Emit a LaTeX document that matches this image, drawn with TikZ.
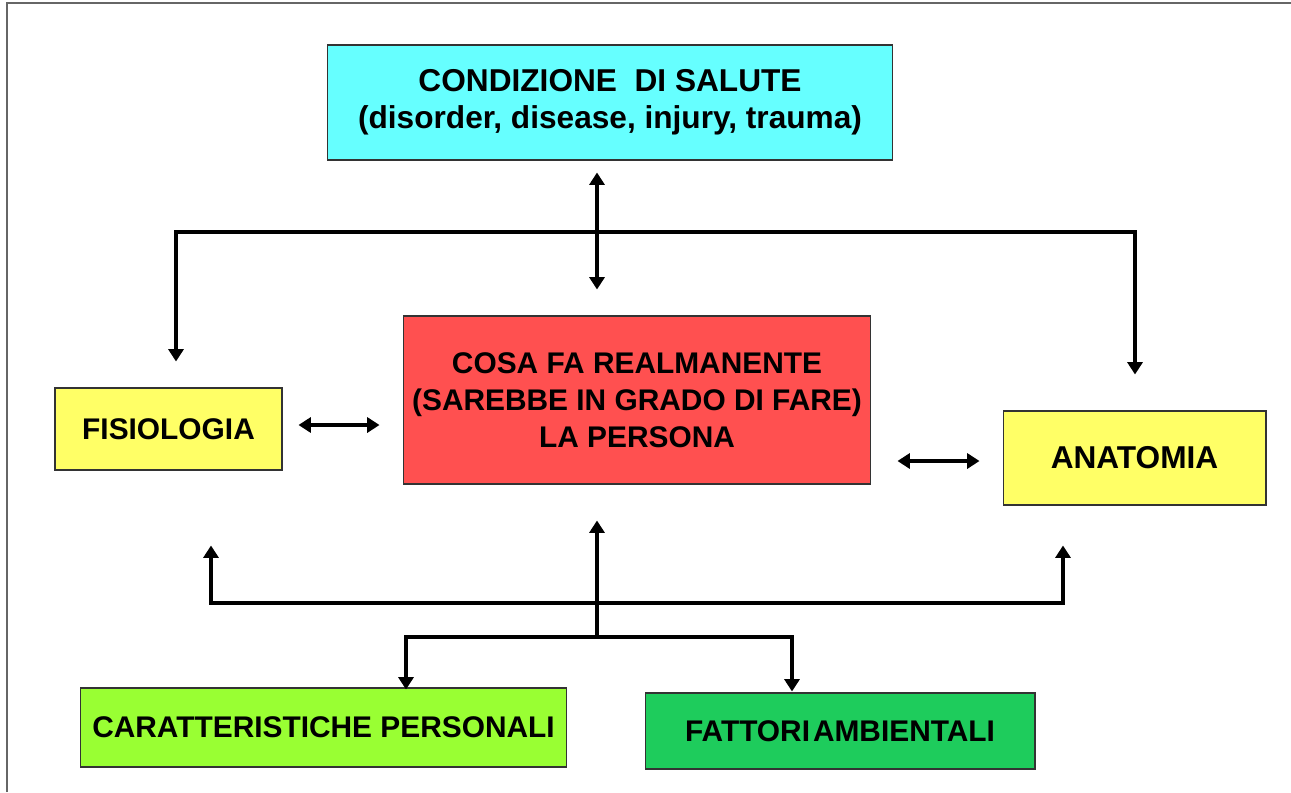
\documentclass[tikz,border=0pt]{standalone}
\usepackage{fontspec}
\setmainfont{Liberation Sans}
\usetikzlibrary{arrows.meta}

\definecolor{salute}{RGB}{102,255,255}
\definecolor{persona}{RGB}{255,80,80}
\definecolor{corpo}{RGB}{255,255,102}
\definecolor{personali}{RGB}{153,255,51}
\definecolor{ambiente}{RGB}{30,204,92}

\begin{document}
\begin{tikzpicture}[x=0.02cm,y=-0.02cm,
    box/.style={draw=black!80, line width=0.6pt, align=center, inner sep=0pt,
        font=\bfseries\fontsize{17}{21}\selectfont},
    big/.style={font=\bfseries\fontsize{18}{21}\selectfont},
    wire/.style={line width=2.3pt, line join=miter},
    onetip/.style={-{Triangle[length=7pt,width=8.5pt]}},
    twotips/.style={{Triangle[length=7pt,width=8.5pt]}-{Triangle[length=7pt,width=8.5pt]}}]

% Page size and frame
\useasboundingbox[fill=white] (0,0) rectangle (1291,792);
\draw[black!60, line width=0.8pt] (7,792) -- (7,3) -- (1291,3);

% Boxes
\node[box, big, fill=salute, minimum width=11.32cm, minimum height=2.3cm] (cond) at (610,102.5)
    {CONDIZIONE\ \ DI SALUTE\\(disorder, disease, injury,\ trauma)};
\node[box, fill=persona, minimum width=9.36cm, minimum height=3.36cm] (cosa) at (637,400)
    {COSA FA REALMANENTE\\(SAREBBE IN GRADO DI FARE)\\LA PERSONA};
\node[box, fill=corpo, minimum width=4.54cm, minimum height=1.64cm] (fis) at (168.5,429) {FISIOLOGIA};
\node[box, big, fill=corpo, minimum width=5.26cm, minimum height=1.88cm] (ana) at (1134.5,458) {ANATOMIA};
\node[box, fill=personali, minimum width=9.74cm, minimum height=1.58cm] (car) at (323.5,727.5)
    {CARATTERISTICHE PERSONALI};
\node[box, fill=ambiente, minimum width=7.8cm, minimum height=1.52cm] (fat) at (840,731)
    {FATTORI\hspace{0.1em}AMBIENTALI};

% Bus points
\coordinate (mid) at (597,232);
\coordinate (tl) at (176,232);
\coordinate (tr) at (1135,232);
\coordinate (bl) at (211,603);
\coordinate (br) at (1063,603);
\coordinate (hub) at (597,637);
\coordinate (cl) at (406,637);
\coordinate (cr) at (792,637);

% Upper connections
\draw[wire, twotips, shorten <=0.24cm, shorten >=0.52cm] (cond.south -| mid) -- (cosa.north -| mid);
\draw[wire, twotips, shorten <=0.52cm, shorten >=0.72cm] (fis.north -| tl) -- (tl) -- (tr) -- (ana.north -| tr);

% Side connections
\draw[wire, twotips, shorten <=0.32cm, shorten >=0.46cm] ([yshift=0.08cm]fis.east) -- ([yshift=0.08cm]fis.east -| cosa.west);
\draw[wire, twotips, shorten <=0.52cm, shorten >=0.46cm] ([yshift=-0.06cm]ana.west -| cosa.east) -- ([yshift=-0.06cm]ana.west);

% Lower connections
\draw[wire, twotips, shorten <=1.5cm, shorten >=0.8cm] (fis.south -| bl) -- (bl) -- (br) -- (ana.south -| br);
\draw[wire, onetip, shorten >=0.72cm] (hub) -- (cosa.south -| hub);
\draw[wire, twotips, shorten <=-0.04cm, shorten >=0.02cm] (car.north -| cl) -- (cl) -- (cr) -- (fat.north -| cr);

\end{tikzpicture}
\end{document}
